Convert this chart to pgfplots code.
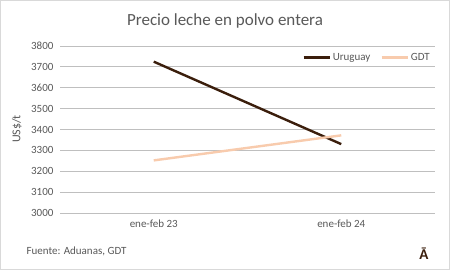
\documentclass[border=0pt]{standalone}
\usepackage{pgfplots}
\pgfplotsset{compat=1.18}
\usepackage{fontspec}
\setmainfont{Carlito}
\definecolor{txt}{HTML}{595959}
\definecolor{grid}{HTML}{D9D9D9}
\definecolor{uru}{HTML}{3B1E0C}
\definecolor{gdt}{HTML}{F8CBAD}
\begin{document}
\begin{tikzpicture}[x=1pt,y=1pt]
\useasboundingbox (0,0) rectangle (450,270);
\fill[white] (0,0) rectangle (450,270);
\draw[grid, line width=1pt] (0.5,0.5) rectangle (449.5,269.5);
\begin{axis}[
  at={(60pt,57pt)}, anchor=south west,
  scale only axis, width=375pt, height=167pt,
  xmin=-0.5, xmax=1.5, ymin=3000, ymax=3800,
  xtick={0,1}, xticklabels={ene-feb 23, ene-feb 24},
  ytick={3000,3100,...,3800},
  xmajorgrids=false, ymajorgrids=true, grid style={grid, line width=0.8pt},
  axis line style={draw=none},
  xtick style={draw=none}, ytick style={draw=none},
  tick label style={font=\fontsize{11}{13}\selectfont, text=txt},
  /pgf/number format/assume math mode=true,
  /pgf/number format/1000 sep={},
  yticklabel style={xshift=-3pt},
  xticklabel style={yshift=-3pt},
  legend style={at={(1,1)}, anchor=north east, yshift=-3pt, draw=none, fill=none, legend columns=2, font=\fontsize{11}{13}\selectfont, text=txt, /tikz/every even column/.append style={column sep=8pt}},
  legend image code/.code={\draw[#1] (0pt,0pt) -- (26pt,0pt);},
]
\addplot[uru, line width=2.4pt] coordinates {(0,3725) (1,3330)};
\addlegendentry{Uruguay}
\addplot[gdt, line width=2.4pt] coordinates {(0,3252) (1,3372)};
\addlegendentry{GDT}
\end{axis}
\node[text=txt, font=\fontsize{12}{14}\selectfont, rotate=90] at (17,141) {US\$/t};
\node[text=txt, font=\fontsize{17}{20}\selectfont] at (225,249) {Precio leche en polvo entera};
\node[text=txt, font=\fontsize{11}{13}\selectfont, anchor=west] at (23,19) {Fuente: Aduanas, GDT};
\node[text=uru, font=\bfseries\fontsize{15}{17}\selectfont] at (424,16) {Ā};
\end{tikzpicture}
\end{document}
